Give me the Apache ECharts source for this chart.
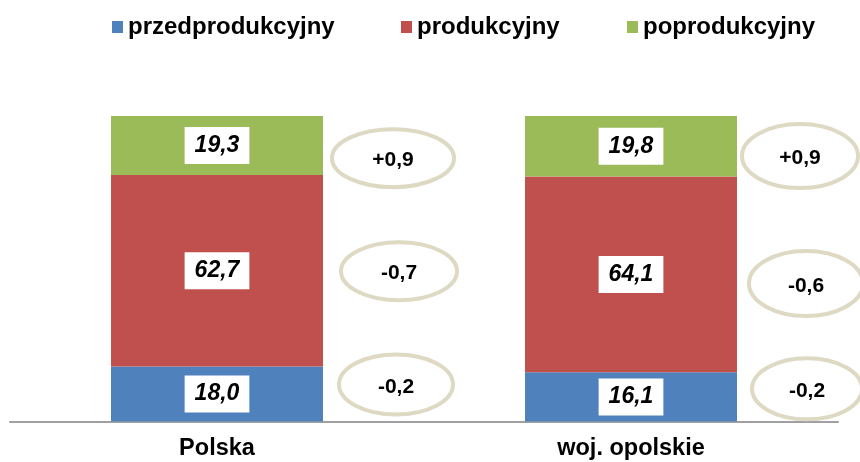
<!DOCTYPE html>
<html>
<head>
<meta charset="utf-8">
<script src="https://cdn.jsdelivr.net/npm/echarts@6/dist/echarts.min.js"></script>
<style>html,body{margin:0;padding:0;background:#fff;}#c{width:860px;height:462px;}</style>
</head>
<body>
<div id="c"></div>
<script>
const categories = ['Polska', 'woj. opolskie'];
const seriesNames = ['przedprodukcyjny', 'produkcyjny', 'poprodukcyjny'];
const przedprodukcyjny = [18.0, 16.1];
const produkcyjny = [62.7, 64.1];
const poprodukcyjny = [19.3, 19.8];
// change annotations (percentage points), per category: [przed, prod, poprod]
const changeLabels = ['-0,2', '-0,7', '+0,9', '-0,2', '-0,6', '+0,9'];
const changeCategory = [0, 0, 0, 1, 1, 1];
// vertical anchor of each annotation bubble, in axis units (%)
const changeAnchor = [12.1, 49.2, 86.2, 10.7, 45.2, 86.9];

const FONT = '"Liberation Sans", Arial, sans-serif';
const colors = ['#4f81bd', '#c0504d', '#9bbb59'];
const valuesBySeries = [przedprodukcyjny, produkcyjny, poprodukcyjny];
// styling: horizontal pixel shift of each bubble from its bar centre, and radii
const bubbleDx = [179, 182, 176, 176, 175, 169];
const bubbleRx = [57, 58, 61, 55, 57, 58];
const bubbleRy = [30, 29, 29, 30.5, 32.5, 32];

const barSeries = seriesNames.map((name, i) => ({
  name: name,
  type: 'bar',
  stack: 'total',
  barWidth: 212,
  data: valuesBySeries[i],
  itemStyle: { color: colors[i] },
  label: {
    show: true,
    position: 'inside',
    formatter: p => p.value.toFixed(1).replace('.', ','),
    fontFamily: FONT,
    fontSize: 23,
    fontWeight: 'bold',
    fontStyle: 'italic',
    color: '#000',
    backgroundColor: '#fff',
    lineHeight: 23,
    padding: [7, 10, 7, 10]
  },
  emphasis: { disabled: true }
}));

const bubbleSeries = {
  type: 'custom',
  name: 'zmiana',
  silent: true,
  z: 5,
  data: changeCategory.map((c, i) => [c, changeAnchor[i]]),
  renderItem: function (params, api) {
    const i = params.dataIndex;
    const p = api.coord([api.value(0), api.value(1)]);
    const cx = p[0] + bubbleDx[i];
    const cy = p[1];
    return {
      type: 'group',
      children: [
        {
          type: 'ellipse',
          shape: { cx: cx, cy: cy, rx: bubbleRx[i], ry: bubbleRy[i] },
          style: { fill: '#fff', stroke: '#ddd9c3', lineWidth: 4 }
        },
        {
          type: 'text',
          x: cx,
          y: cy + 2.5,
          style: {
            text: changeLabels[i],
            fontFamily: FONT,
            fontSize: 21,
            fontWeight: 'bold',
            fill: '#000',
            align: 'center',
            verticalAlign: 'middle'
          }
        }
      ]
    };
  }
};

const legendLefts = [112, 401, 627];
const legends = seriesNames.map((n, i) => ({
  data: [n],
  left: legendLefts[i],
  top: 15,
  padding: 0,
  icon: 'rect',
  itemWidth: 11,
  itemHeight: 12,
  selectedMode: false,
  textStyle: { fontFamily: FONT, fontSize: 24, fontWeight: 'bold', color: '#000' }
}));

const chart = echarts.init(document.getElementById('c'), null, { renderer: 'canvas' });
chart.setOption({
  animation: false,
  backgroundColor: '#fff',
  color: colors,
  legend: legends,
  grid: { left: 10, right: 22, top: 116, bottom: 40.5, containLabel: false },
  xAxis: {
    type: 'category',
    data: categories,
    axisLine: { show: true, lineStyle: { color: '#a0a0a0', width: 2 } },
    axisTick: { show: false },
    axisLabel: {
      fontFamily: FONT,
      fontSize: 23.5,
      fontWeight: 'bold',
      color: '#000',
      margin: 15
    }
  },
  yAxis: {
    type: 'value',
    min: 0,
    max: 100,
    show: false,
    splitLine: { show: false }
  },
  series: barSeries.concat([bubbleSeries])
});
</script>
</body>
</html>
